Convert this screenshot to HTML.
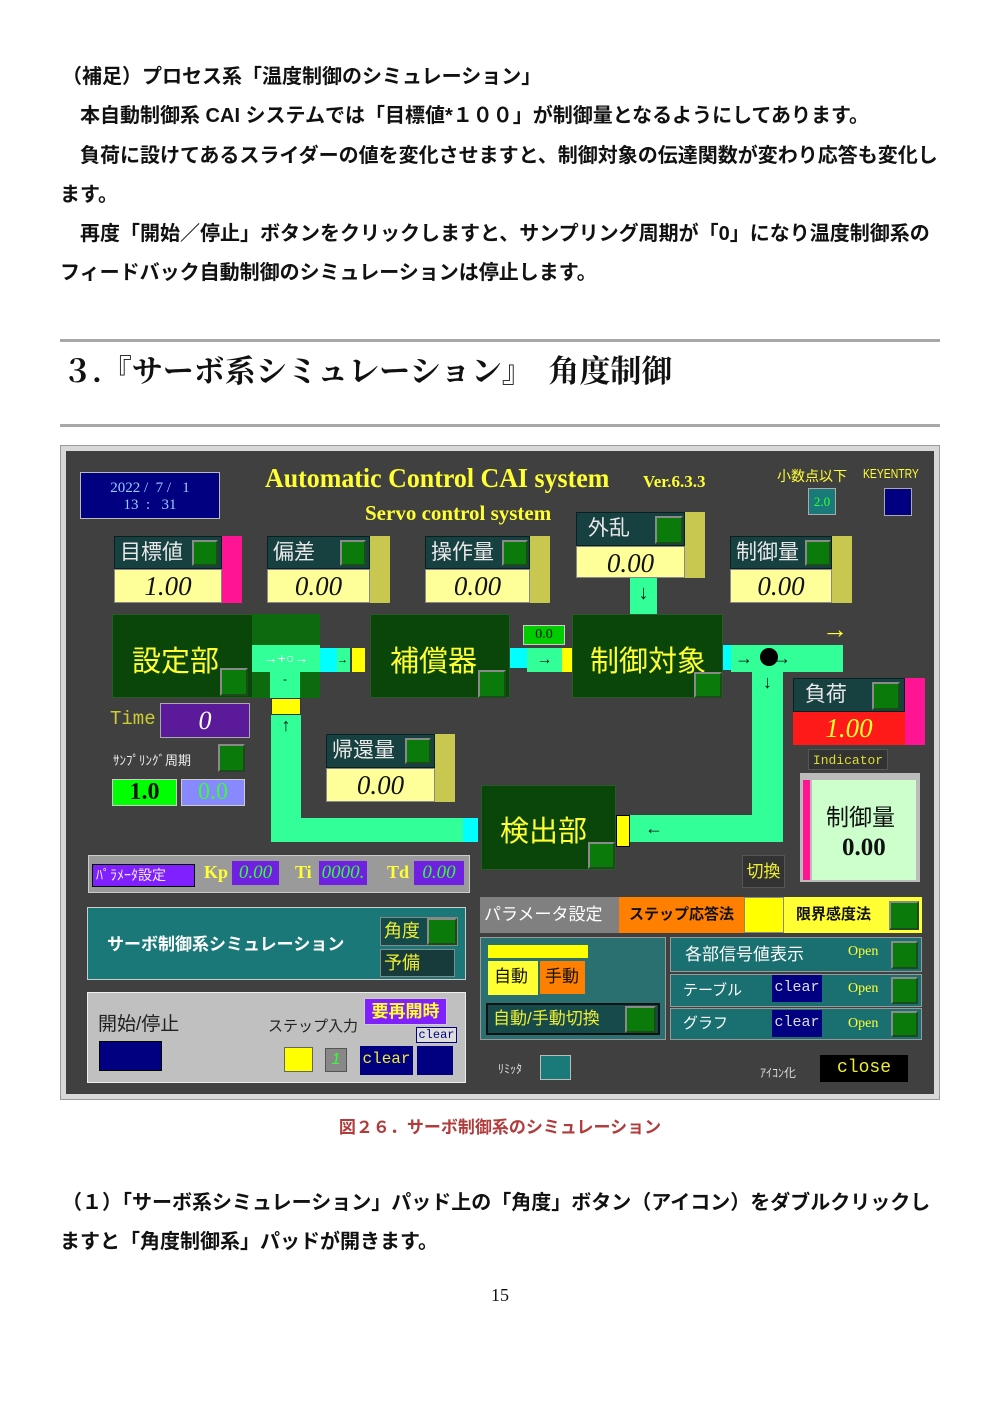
<!DOCTYPE html>
<html><head><meta charset="utf-8"><style>
*{margin:0;padding:0;box-sizing:border-box}
body{width:1000px;height:1414px;background:#fff;position:relative;overflow:hidden;font-family:"Liberation Sans","Noto Sans CJK JP",sans-serif}
.a{position:absolute}
.t{font-size:20px;color:#111;white-space:nowrap;font-weight:bold}
.hd{background:#174040;color:#e8e8e8;font-size:21px;line-height:32px;padding-left:5px;font-family:"Liberation Sans","Noto Sans CJK JP",sans-serif;border:1px solid #0a2020}
.val{background:#ffff99;color:#111;font-family:"Liberation Serif",serif;font-style:italic;font-size:27px;text-align:center;line-height:33px;border:1px solid #888}
.sq{background:#0a7a0a;border:2px solid #1c4a1c;border-top-color:#8a8a8a;border-left-color:#8a8a8a}
.blk{background:#0a460a;color:#ffff33;font-size:30px;border:1px solid #2a5a2a;font-family:"Liberation Sans","Noto Sans CJK JP",sans-serif}
.m{background:#33ff99}
.c{background:#00ffff}
.y{background:#ffff00}
.ys{color:#ffff33}
</style></head><body>
<div class="a t" style="left:62px;top:60px">（補足）プロセス系「温度制御のシミュレーション」</div>
<div class="a t" style="left:80px;top:99px">本自動制御系 CAI システムでは「目標値*１００」が制御量となるようにしてあります。</div>
<div class="a t" style="left:80px;top:139px">負荷に設けてあるスライダーの値を変化させますと、制御対象の伝達関数が変わり応答も変化し</div>
<div class="a t" style="left:60px;top:178px">ます。</div>
<div class="a t" style="left:80px;top:217px">再度「開始／停止」ボタンをクリックしますと、サンプリング周期が「0」になり温度制御系の</div>
<div class="a t" style="left:60px;top:256px">フィードバック自動制御のシミュレーションは停止します。</div>
<div class="a" style="left:60px;top:339px;width:880px;height:3px;background:#a8a8a8"></div>
<div class="a" style="left:62px;top:346px;font-size:31px;font-weight:bold;font-family:'Liberation Serif','Noto Serif CJK SC',serif;white-space:nowrap;color:#111">３.『サーボ系シミュレーション』　角度制御</div>
<div class="a" style="left:60px;top:424px;width:880px;height:3px;background:#a8a8a8"></div>

<div class="a" style="left:60px;top:445px;width:880px;height:655px;background:#d8d8d8;border:1px solid #999"></div>
<div class="a" style="left:66px;top:451px;width:868px;height:643px;background:#404040"></div>

<div class="a" style="left:80px;top:472px;width:140px;height:47px;background:#000080;border:1px solid #bbb;color:#9cf;font-family:'Liberation Serif',serif;font-size:15px;text-align:center;line-height:17px;padding-top:7px">2022 /&nbsp; 7 /&nbsp;&nbsp; 1<br>13&nbsp; :&nbsp;&nbsp; 31</div>
<div class="a ys" style="left:265px;top:463px;font-family:'Liberation Serif',serif;font-weight:bold;font-size:27px;white-space:nowrap;transform:scaleX(0.96);transform-origin:left">Automatic Control CAI system</div>
<div class="a ys" style="left:643px;top:472px;font-family:'Liberation Serif',serif;font-weight:bold;font-size:17px">Ver.6.3.3</div>
<div class="a ys" style="left:365px;top:501px;font-family:'Liberation Serif',serif;font-weight:bold;font-size:21px;white-space:nowrap">Servo control system</div>
<div class="a ys" style="left:777px;top:466px;font-size:14px;white-space:nowrap">小数点以下</div>
<div class="a ys" style="left:863px;top:466px;font-size:13px;transform:scaleX(.8);transform-origin:left">KEYENTRY</div>
<div class="a" style="left:808px;top:488px;width:28px;height:27px;background:#1a7a7a;border:1px solid #aaa;color:#3f3;font-size:13px;text-align:center;line-height:25px;font-family:'Liberation Serif',serif">2.0</div>
<div class="a" style="left:884px;top:488px;width:28px;height:28px;background:#000080;border:1px solid #aaa"></div>

<div class="a hd" style="left:114px;top:536px;width:108px;height:33px">目標値</div><div class="a sq" style="left:192px;top:540px;width:26px;height:26px"></div>
<div class="a val" style="left:114px;top:569px;width:108px;height:34px">1.00</div><div class="a" style="left:222px;top:536px;width:20px;height:67px;background:#ff1493"></div>

<div class="a hd" style="left:267px;top:536px;width:103px;height:33px">偏差</div><div class="a sq" style="left:340px;top:540px;width:26px;height:26px"></div>
<div class="a val" style="left:267px;top:569px;width:103px;height:34px">0.00</div><div class="a" style="left:370px;top:536px;width:20px;height:67px;background:#c8c850"></div>

<div class="a hd" style="left:425px;top:536px;width:105px;height:33px">操作量</div><div class="a sq" style="left:502px;top:540px;width:26px;height:26px"></div>
<div class="a val" style="left:425px;top:569px;width:105px;height:34px">0.00</div><div class="a" style="left:530px;top:536px;width:20px;height:67px;background:#c8c850"></div>

<div class="a hd" style="left:576px;top:512px;width:109px;height:34px">&nbsp;外乱</div><div class="a sq" style="left:655px;top:516px;width:28px;height:28px"></div>
<div class="a val" style="left:576px;top:546px;width:109px;height:32px">0.00</div><div class="a" style="left:685px;top:512px;width:20px;height:66px;background:#c8c850"></div>

<div class="a hd" style="left:730px;top:536px;width:102px;height:33px">制御量</div><div class="a sq" style="left:805px;top:540px;width:26px;height:26px"></div>
<div class="a val" style="left:730px;top:569px;width:102px;height:34px">0.00</div><div class="a" style="left:832px;top:536px;width:20px;height:67px;background:#c8c850"></div>

<div class="a m" style="left:630px;top:578px;width:27px;height:36px;color:#111;text-align:center;font-size:20px;line-height:30px">↓</div>
<div class="a blk" style="left:112px;top:614px;width:208px;height:84px"></div>
<div class="a" style="left:252px;top:614px;width:68px;height:84px;background:#0e6a0e"></div>
<div class="a m" style="left:252px;top:645px;width:68px;height:27px;color:#fff;font-size:14px;line-height:27px;text-align:center">→+○→</div>
<div class="a m" style="left:270px;top:672px;width:30px;height:26px;color:#111;font-size:12px;text-align:center">-</div>
<div class="a ys" style="left:132px;top:638px;font-size:29px">設定部</div>
<div class="a sq" style="left:220px;top:668px;width:28px;height:28px"></div>
<div class="a c" style="left:320px;top:648px;width:17px;height:24px"></div>
<div class="a m" style="left:337px;top:648px;width:13px;height:24px;font-size:11px;line-height:24px">→</div>
<div class="a y" style="left:352px;top:648px;width:13px;height:24px"></div>
<div class="a blk" style="left:370px;top:614px;width:140px;height:84px"></div>
<div class="a ys" style="left:390px;top:638px;font-size:29px">補償器</div>
<div class="a sq" style="left:478px;top:670px;width:28px;height:28px"></div>
<div class="a c" style="left:510px;top:648px;width:17px;height:20px"></div>
<div class="a m" style="left:527px;top:648px;width:35px;height:24px;color:#111;text-align:center;line-height:24px">→</div>
<div class="a y" style="left:562px;top:648px;width:10px;height:24px"></div>
<div class="a" style="left:523px;top:625px;width:42px;height:20px;background:#00cc00;border:1px solid #ccc;color:#111;font-family:'Liberation Serif',serif;font-size:14px;text-align:center;line-height:18px">0.0</div>
<div class="a blk" style="left:572px;top:614px;width:151px;height:84px"></div>
<div class="a ys" style="left:590px;top:638px;font-size:29px">制御対象</div>
<div class="a sq" style="left:694px;top:672px;width:28px;height:26px"></div>
<div class="a c" style="left:723px;top:645px;width:8px;height:25px"></div>
<div class="a m" style="left:731px;top:645px;width:112px;height:27px;color:#111;font-size:18px;line-height:27px;padding-left:4px">→&nbsp;&nbsp;&nbsp;&nbsp;→</div>
<div class="a" style="left:760px;top:648px;width:18px;height:18px;border-radius:50%;background:#000"></div>
<div class="a ys" style="left:822px;top:614px;font-size:26px">→</div>
<div class="a m" style="left:752px;top:672px;width:31px;height:170px;color:#111;text-align:center;font-size:18px">↓</div>
<div class="a m" style="left:630px;top:815px;width:153px;height:27px;color:#111;font-size:18px;line-height:27px;padding-left:15px">←</div>
<div class="a blk" style="left:481px;top:785px;width:135px;height:85px"></div>
<div class="a ys" style="left:500px;top:808px;font-size:29px">検出部</div>
<div class="a sq" style="left:588px;top:842px;width:27px;height:27px"></div>
<div class="a y" style="left:616px;top:815px;width:14px;height:32px;border:1px solid #000"></div>
<div class="a c" style="left:463px;top:818px;width:15px;height:24px"></div>
<div class="a m" style="left:271px;top:818px;width:192px;height:24px"></div>
<div class="a m" style="left:271px;top:715px;width:30px;height:103px;color:#111;text-align:center;font-size:18px">↑</div>
<div class="a y" style="left:271px;top:698px;width:30px;height:17px;border:1px solid #333"></div>

<div class="a" style="left:110px;top:708px;color:#cccc33;font-size:19px;font-family:'Liberation Mono',monospace">Time</div>
<div class="a" style="left:160px;top:703px;width:90px;height:35px;background:#5a1a9a;border:1px solid #aaa;color:#fff;font-family:'Liberation Serif',serif;font-style:italic;font-size:26px;text-align:center;line-height:33px">0</div>
<div class="a" style="left:113px;top:750px;color:#eee;font-size:13px;white-space:nowrap">ｻﾝﾌﾟﾘﾝｸﾞ周期</div>
<div class="a sq" style="left:218px;top:744px;width:27px;height:28px"></div>
<div class="a" style="left:112px;top:779px;width:65px;height:27px;background:#00ff00;border:1px solid #ccc;color:#111;font-family:'Liberation Serif',serif;font-weight:bold;font-size:24px;text-align:center;line-height:25px">1.0</div>
<div class="a" style="left:181px;top:779px;width:64px;height:27px;background:#8888ff;border:1px solid #ccc;color:#3f3;font-family:'Liberation Serif',serif;font-size:24px;text-align:center;line-height:25px">0.0</div>

<div class="a hd" style="left:326px;top:734px;width:109px;height:34px">帰還量</div><div class="a sq" style="left:405px;top:738px;width:26px;height:26px"></div>
<div class="a val" style="left:326px;top:768px;width:109px;height:34px">0.00</div><div class="a" style="left:435px;top:734px;width:20px;height:68px;background:#c8c850"></div>

<div class="a hd" style="left:793px;top:678px;width:112px;height:34px">&nbsp;負荷</div><div class="a sq" style="left:872px;top:682px;width:28px;height:28px"></div>
<div class="a" style="left:793px;top:712px;width:112px;height:33px;background:#ff1a1a;color:#ffff33;font-family:'Liberation Serif',serif;font-style:italic;font-size:27px;text-align:center;line-height:33px">1.00</div>
<div class="a" style="left:905px;top:678px;width:20px;height:67px;background:#ff1493"></div>
<div class="a" style="left:808px;top:749px;width:80px;height:21px;background:#333;color:#dd3;font-family:'Liberation Mono',monospace;font-size:13px;text-align:center;line-height:21px;border:1px solid #555">Indicator</div>
<div class="a" style="left:800px;top:773px;width:120px;height:109px;background:#bbb"></div>
<div class="a" style="left:803px;top:780px;width:7px;height:100px;background:#ff1493"></div>
<div class="a" style="left:812px;top:780px;width:104px;height:100px;background:#ccffcc;color:#111"><div style="position:absolute;left:14px;top:18px;font-size:23px;white-space:nowrap">制御量</div><div style="position:absolute;left:30px;top:54px;font-size:25px;font-family:'Liberation Serif',serif;font-weight:bold">0.00</div></div>
<div class="a" style="left:742px;top:855px;width:43px;height:33px;background:#333;border:1px solid #555;color:#ee3;font-size:17px;text-align:center;line-height:31px">切換</div>

<div class="a" style="left:88px;top:855px;width:382px;height:38px;background:#9a9a9a;border:1px solid #ccc"></div>
<div class="a" style="left:92px;top:864px;width:103px;height:23px;background:#8020ff;border:1px solid #000;color:#eee;font-size:14px;line-height:21px;padding-left:3px;white-space:nowrap">ﾊﾟﾗﾒｰﾀ設定</div>
<div class="a ys" style="left:204px;top:862px;font-family:'Liberation Serif',serif;font-weight:bold;font-size:18px">Kp</div>
<div class="a" style="left:232px;top:861px;width:47px;height:24px;background:#7020e0;color:#3f3;font-family:'Liberation Serif',serif;font-style:italic;font-size:19px;text-align:center;line-height:24px">0.00</div>
<div class="a ys" style="left:295px;top:862px;font-family:'Liberation Serif',serif;font-weight:bold;font-size:18px">Ti</div>
<div class="a" style="left:319px;top:861px;width:48px;height:24px;background:#7020e0;color:#3f3;font-family:'Liberation Serif',serif;font-style:italic;font-size:19px;text-align:center;line-height:24px;overflow:hidden">0000.</div>
<div class="a ys" style="left:387px;top:862px;font-family:'Liberation Serif',serif;font-weight:bold;font-size:18px">Td</div>
<div class="a" style="left:414px;top:861px;width:50px;height:24px;background:#7020e0;color:#3f3;font-family:'Liberation Serif',serif;font-style:italic;font-size:19px;text-align:center;line-height:24px">0.00</div>

<div class="a" style="left:87px;top:907px;width:379px;height:73px;background:#1a7878;border:1px solid #ccc"></div>
<div class="a" style="left:107px;top:930px;color:#fff;font-weight:bold;font-size:17px;white-space:nowrap">サーボ制御系シミュレーション</div>
<div class="a" style="left:380px;top:917px;width:78px;height:29px;background:#154a4a;border:1px solid #888;color:#ee3;font-size:18px;line-height:27px;padding-left:3px">角度</div>
<div class="a sq" style="left:427px;top:918px;width:30px;height:27px"></div>
<div class="a" style="left:380px;top:949px;width:75px;height:28px;background:#173a3a;border:1px solid #888;color:#ee3;font-size:18px;line-height:26px;padding-left:3px">予備</div>

<div class="a" style="left:87px;top:992px;width:379px;height:91px;background:#c0c0c0;border:1px solid #eee"></div>
<div class="a" style="left:98px;top:1009px;color:#222;font-size:19px">開始/停止</div>
<div class="a" style="left:99px;top:1041px;width:63px;height:30px;background:#000080;border:1px solid #000"></div>
<div class="a" style="left:268px;top:1015px;color:#222;font-size:15px;white-space:nowrap">ステップ入力</div>
<div class="a" style="left:364px;top:998px;width:83px;height:27px;background:#8020ff;border:1px solid #ccc;color:#ffff33;font-size:17px;font-weight:bold;text-align:center;line-height:25px">要再開時</div>
<div class="a" style="left:416px;top:1027px;width:41px;height:16px;background:#ddd;border:1px solid #000080;color:#000080;font-family:'Liberation Mono',monospace;font-size:12px;text-align:center;line-height:14px">clear</div>
<div class="a" style="left:284px;top:1047px;width:29px;height:25px;background:#ffff00;border:1px solid #666"></div>
<div class="a" style="left:325px;top:1048px;width:22px;height:24px;background:#888;border:1px solid #555;color:#3f3;font-style:italic;text-align:center;font-size:16px;line-height:22px">1</div>
<div class="a" style="left:360px;top:1046px;width:53px;height:29px;background:#000080;color:#ee3;font-family:'Liberation Mono',monospace;font-size:16px;text-align:center;line-height:27px">clear</div>
<div class="a" style="left:417px;top:1046px;width:36px;height:29px;background:#000080"></div>

<div class="a" style="left:480px;top:897px;width:139px;height:36px;background:#808080;color:#fff;font-size:17px;line-height:36px;padding-left:4px;white-space:nowrap">パラメータ設定</div>
<div class="a" style="left:619px;top:897px;width:125px;height:36px;background:#ff8000;color:#111;font-size:15px;font-weight:bold;line-height:36px;padding-left:10px;white-space:nowrap">ステップ応答法</div>
<div class="a" style="left:744px;top:897px;width:40px;height:36px;background:#ffff00;border:1px solid #888"></div>
<div class="a" style="left:784px;top:897px;width:138px;height:36px;background:#ffff33;color:#111;font-size:15px;font-weight:bold;line-height:36px;padding-left:12px">限界感度法</div>
<div class="a sq" style="left:889px;top:901px;width:30px;height:29px"></div>

<div class="a" style="left:480px;top:937px;width:186px;height:103px;background:#2a7070;border:1px solid #999"></div>
<div class="a y" style="left:488px;top:945px;width:100px;height:13px"></div>
<div class="a" style="left:488px;top:961px;width:50px;height:34px;background:#ffff33;color:#111;font-size:17px;line-height:32px;padding-left:6px">自動</div>
<div class="a" style="left:540px;top:961px;width:45px;height:33px;background:#ff8000;color:#111;font-size:17px;line-height:31px;padding-left:5px">手動</div>
<div class="a" style="left:486px;top:1003px;width:174px;height:32px;background:#174a4a;border:2px solid #111;color:#ee3;font-size:17px;line-height:28px;padding-left:5px;white-space:nowrap">自動/手動切換</div>
<div class="a sq" style="left:625px;top:1006px;width:31px;height:27px"></div>

<div class="a" style="left:670px;top:937px;width:252px;height:35px;background:#1a7070;border:1px solid #999;color:#fff;font-size:17px;line-height:33px;padding-left:14px">各部信号値表示</div>
<div class="a" style="left:670px;top:974px;width:252px;height:33px;background:#1a7070;border:1px solid #999;color:#fff;font-size:15px;line-height:31px;padding-left:12px">テーブル</div>
<div class="a" style="left:670px;top:1008px;width:252px;height:32px;background:#1a7070;border:1px solid #999;color:#fff;font-size:15px;line-height:30px;padding-left:12px">グラフ</div>
<div class="a" style="left:772px;top:975px;width:50px;height:27px;background:#000080;color:#ddd;font-family:'Liberation Mono',monospace;font-size:15px;text-align:center;line-height:25px">clear</div>
<div class="a" style="left:772px;top:1010px;width:50px;height:27px;background:#000080;color:#ddd;font-family:'Liberation Mono',monospace;font-size:15px;text-align:center;line-height:25px">clear</div>
<div class="a ys" style="left:848px;top:944px;font-size:14px;font-family:'Liberation Serif',serif">Open</div>
<div class="a ys" style="left:848px;top:981px;font-size:14px;font-family:'Liberation Serif',serif">Open</div>
<div class="a ys" style="left:848px;top:1016px;font-size:14px;font-family:'Liberation Serif',serif">Open</div>
<div class="a sq" style="left:891px;top:941px;width:27px;height:28px"></div>
<div class="a sq" style="left:891px;top:977px;width:27px;height:27px"></div>
<div class="a sq" style="left:891px;top:1011px;width:27px;height:26px"></div>

<div class="a" style="left:498px;top:1060px;color:#ddd;font-size:12px">ﾘﾐｯﾀ</div>
<div class="a" style="left:540px;top:1055px;width:31px;height:25px;background:#1a7a7a;border:1px solid #bbb"></div>
<div class="a" style="left:760px;top:1064px;color:#ddd;font-size:12px">ｱｲｺﾝ化</div>
<div class="a" style="left:820px;top:1055px;width:88px;height:27px;background:#000;color:#ee3;font-family:'Liberation Mono',monospace;font-size:18px;text-align:center;line-height:27px">close</div>

<div class="a" style="left:0;top:1113px;width:1000px;text-align:center;color:#b03c3c;font-size:17px;font-weight:bold">図２６．サーボ制御系のシミュレーション</div>
<div class="a t" style="left:62px;top:1186px">（１）「サーボ系シミュレーション」パッド上の「角度」ボタン（アイコン）をダブルクリックし</div>
<div class="a t" style="left:60px;top:1225px">ますと「角度制御系」パッドが開きます。</div>
<div class="a" style="left:0;top:1285px;width:1000px;text-align:center;font-family:'Liberation Serif',serif;font-size:18px;color:#111">15</div>
</body></html>
